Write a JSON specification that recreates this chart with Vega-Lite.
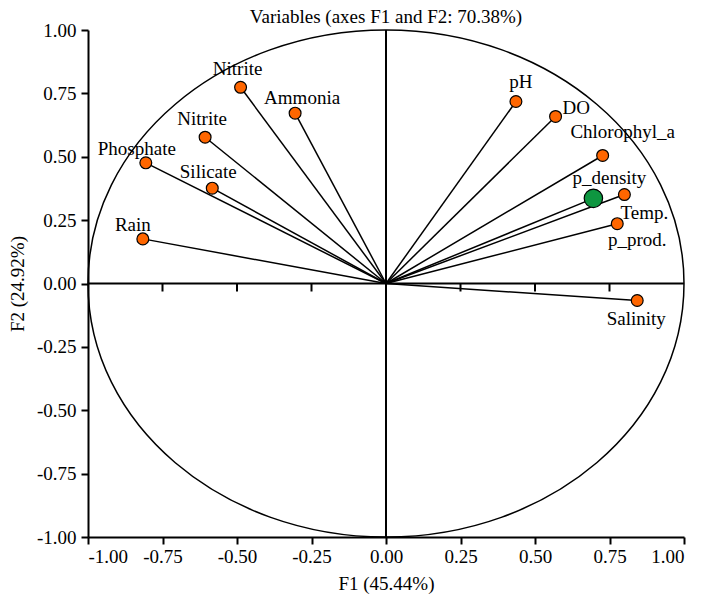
{
  "$schema": "https://vega.github.io/schema/vega-lite/v6.json",
  "width": 596,
  "height": 507,
  "autosize": "none",
  "padding": {"left": 88, "top": 30, "right": 17, "bottom": 61},
  "background": "white",
  "title": {"text": "Variables (axes F1 and F2: 70.38%)", "font": "Liberation Serif", "fontSize": 19, "fontWeight": "normal", "color": "black", "offset": -6},
  "config": {
    "view": {"stroke": null},
    "font": "Liberation Serif",
    "axis": {
      "grid": false,
      "labelFont": "Liberation Serif",
      "titleFont": "Liberation Serif",
      "labelFontSize": 19,
      "titleFontSize": 19,
      "titleFontWeight": "normal",
      "labelColor": "black",
      "titleColor": "black",
      "domainColor": "black",
      "tickColor": "black",
      "domainWidth": 2,
      "tickWidth": 2,
      "tickSize": 7,
      "labelPadding": 3,
      "labelExpr": "replace(format(datum.value, '.2f'), '\u2212', '-')"
    },
    "axisX": {"titlePadding": 8},
    "axisY": {"titlePadding": 9, "labelPadding": 5}
  },
  "datasets": {
    "vars": [
      {"variable": "Nitrite", "x": -0.488, "y": 0.774},
      {"variable": "Ammonia", "x": -0.305, "y": 0.672},
      {"variable": "Nitrite", "x": -0.607, "y": 0.577},
      {"variable": "Phosphate", "x": -0.806, "y": 0.476},
      {"variable": "Silicate", "x": -0.583, "y": 0.376},
      {"variable": "Rain", "x": -0.816, "y": 0.176},
      {"variable": "pH", "x": 0.436, "y": 0.718},
      {"variable": "DO", "x": 0.569, "y": 0.659},
      {"variable": "Chlorophyl_a", "x": 0.727, "y": 0.505},
      {"variable": "p_density", "x": 0.696, "y": 0.336},
      {"variable": "Temp.", "x": 0.8, "y": 0.351},
      {"variable": "p_prod.", "x": 0.776, "y": 0.236},
      {"variable": "Salinity", "x": 0.843, "y": -0.067}
    ],
    "zeroticks": [
      {"v": -0.75}, {"v": -0.5}, {"v": -0.25}, {"v": 0.25}, {"v": 0.5}, {"v": 0.75}
    ],
    "origin": [{"cx": 0, "cy": 0}]
  },
  "layer": [
    {
      "data": {"name": "origin"},
      "mark": {
        "type": "point",
        "shape": "M 1 0 C 1 0.4698 0.5523 0.8507 0 0.8507 C -0.5523 0.8507 -1 0.4698 -1 0 C -1 -0.4698 -0.5523 -0.8507 0 -0.8507 C 0.5523 -0.8507 1 -0.4698 1 0 Z",
        "size": 355216,
        "filled": false,
        "stroke": "black",
        "strokeWidth": 1.5,
        "opacity": 1
      },
      "encoding": {
        "x": {"field": "cx", "type": "quantitative", "title": "F1 (45.44%)", "scale": {"domain": [-1, 1], "nice": false, "zero": false}},
        "y": {"field": "cy", "type": "quantitative", "title": "F2 (24.92%)", "scale": {"domain": [-1, 1], "nice": false, "zero": false}}
      }
    },
    {
      "data": {"name": "origin"},
      "mark": {"type": "rule", "color": "black", "strokeWidth": 2},
      "encoding": {
        "y": {"field": "cy", "type": "quantitative", "title": "F2 (24.92%)"}
      }
    },
    {
      "data": {"name": "origin"},
      "mark": {"type": "rule", "color": "black", "strokeWidth": 2},
      "encoding": {
        "x": {"field": "cx", "type": "quantitative", "title": "F1 (45.44%)"}
      }
    },
    {
      "data": {"name": "zeroticks"},
      "mark": {"type": "tick", "orient": "vertical", "color": "black", "size": 8, "thickness": 2, "yOffset": 4, "opacity": 1},
      "encoding": {
        "x": {"field": "v", "type": "quantitative", "title": "F1 (45.44%)"},
        "y": {"datum": 0, "type": "quantitative", "title": "F2 (24.92%)"}
      }
    },
    {
      "data": {"name": "vars"},
      "encoding": {
        "x": {"field": "x", "type": "quantitative", "title": "F1 (45.44%)", "axis": {"values": [-1, -0.75, -0.5, -0.25, 0, 0.25, 0.5, 0.75, 1]}},
        "y": {"field": "y", "type": "quantitative", "title": "F2 (24.92%)", "axis": {"values": [-1, -0.75, -0.5, -0.25, 0, 0.25, 0.5, 0.75, 1]}}
      },
      "layer": [
        {
          "mark": {"type": "rule", "color": "black", "strokeWidth": 1.5},
          "encoding": {"x2": {"datum": 0}, "y2": {"datum": 0}}
        },
        {
          "transform": [{"filter": "datum.variable !== 'p_density'"}],
          "mark": {"type": "point", "filled": true, "fill": "#FF6600", "stroke": "black", "strokeWidth": 1.2, "size": 140, "opacity": 1}
        },
        {
          "transform": [{"filter": "datum.variable === 'p_density'"}],
          "mark": {"type": "point", "filled": true, "fill": "#0E9640", "stroke": "black", "strokeWidth": 1.2, "size": 340, "opacity": 1}
        },
        {
          "transform": [{"filter": "datum.variable === 'Nitrite'"}],
          "mark": {"type": "text", "font": "Liberation Serif", "fontSize": 19, "color": "black", "align": "center", "baseline": "alphabetic", "dx": -3, "dy": -12},
          "encoding": {"text": {"field": "variable"}}
        },
        {
          "transform": [{"filter": "datum.variable === 'Ammonia'"}],
          "mark": {"type": "text", "font": "Liberation Serif", "fontSize": 19, "color": "black", "align": "center", "baseline": "alphabetic", "dx": 7, "dy": -9},
          "encoding": {"text": {"field": "variable"}}
        },
        {
          "transform": [{"filter": "datum.variable === 'Phosphate'"}],
          "mark": {"type": "text", "font": "Liberation Serif", "fontSize": 19, "color": "black", "align": "center", "baseline": "alphabetic", "dx": -9, "dy": -8},
          "encoding": {"text": {"field": "variable"}}
        },
        {
          "transform": [{"filter": "datum.variable === 'Silicate'"}],
          "mark": {"type": "text", "font": "Liberation Serif", "fontSize": 19, "color": "black", "align": "center", "baseline": "alphabetic", "dx": -4, "dy": -10},
          "encoding": {"text": {"field": "variable"}}
        },
        {
          "transform": [{"filter": "datum.variable === 'Rain'"}],
          "mark": {"type": "text", "font": "Liberation Serif", "fontSize": 19, "color": "black", "align": "center", "baseline": "alphabetic", "dx": -10, "dy": -8},
          "encoding": {"text": {"field": "variable"}}
        },
        {
          "transform": [{"filter": "datum.variable === 'pH'"}],
          "mark": {"type": "text", "font": "Liberation Serif", "fontSize": 19, "color": "black", "align": "center", "baseline": "alphabetic", "dx": 5, "dy": -13},
          "encoding": {"text": {"field": "variable"}}
        },
        {
          "transform": [{"filter": "datum.variable === 'DO'"}],
          "mark": {"type": "text", "font": "Liberation Serif", "fontSize": 19, "color": "black", "align": "left", "baseline": "alphabetic", "dx": 7, "dy": -2},
          "encoding": {"text": {"field": "variable"}}
        },
        {
          "transform": [{"filter": "datum.variable === 'Chlorophyl_a'"}],
          "mark": {"type": "text", "font": "Liberation Serif", "fontSize": 19, "color": "black", "align": "center", "baseline": "alphabetic", "dx": 20, "dy": -17},
          "encoding": {"text": {"field": "variable"}}
        },
        {
          "transform": [{"filter": "datum.variable === 'p_density'"}],
          "mark": {"type": "text", "font": "Liberation Serif", "fontSize": 19, "color": "black", "align": "center", "baseline": "alphabetic", "dx": 16, "dy": -14},
          "encoding": {"text": {"field": "variable"}}
        },
        {
          "transform": [{"filter": "datum.variable === 'Temp.'"}],
          "mark": {"type": "text", "font": "Liberation Serif", "fontSize": 19, "color": "black", "align": "center", "baseline": "alphabetic", "dx": 20, "dy": 24},
          "encoding": {"text": {"field": "variable"}}
        },
        {
          "transform": [{"filter": "datum.variable === 'p_prod.'"}],
          "mark": {"type": "text", "font": "Liberation Serif", "fontSize": 19, "color": "black", "align": "center", "baseline": "alphabetic", "dx": 20, "dy": 22},
          "encoding": {"text": {"field": "variable"}}
        },
        {
          "transform": [{"filter": "datum.variable === 'Salinity'"}],
          "mark": {"type": "text", "font": "Liberation Serif", "fontSize": 19, "color": "black", "align": "center", "baseline": "alphabetic", "dx": -1, "dy": 25},
          "encoding": {"text": {"field": "variable"}}
        }
      ]
    }
  ]
}
